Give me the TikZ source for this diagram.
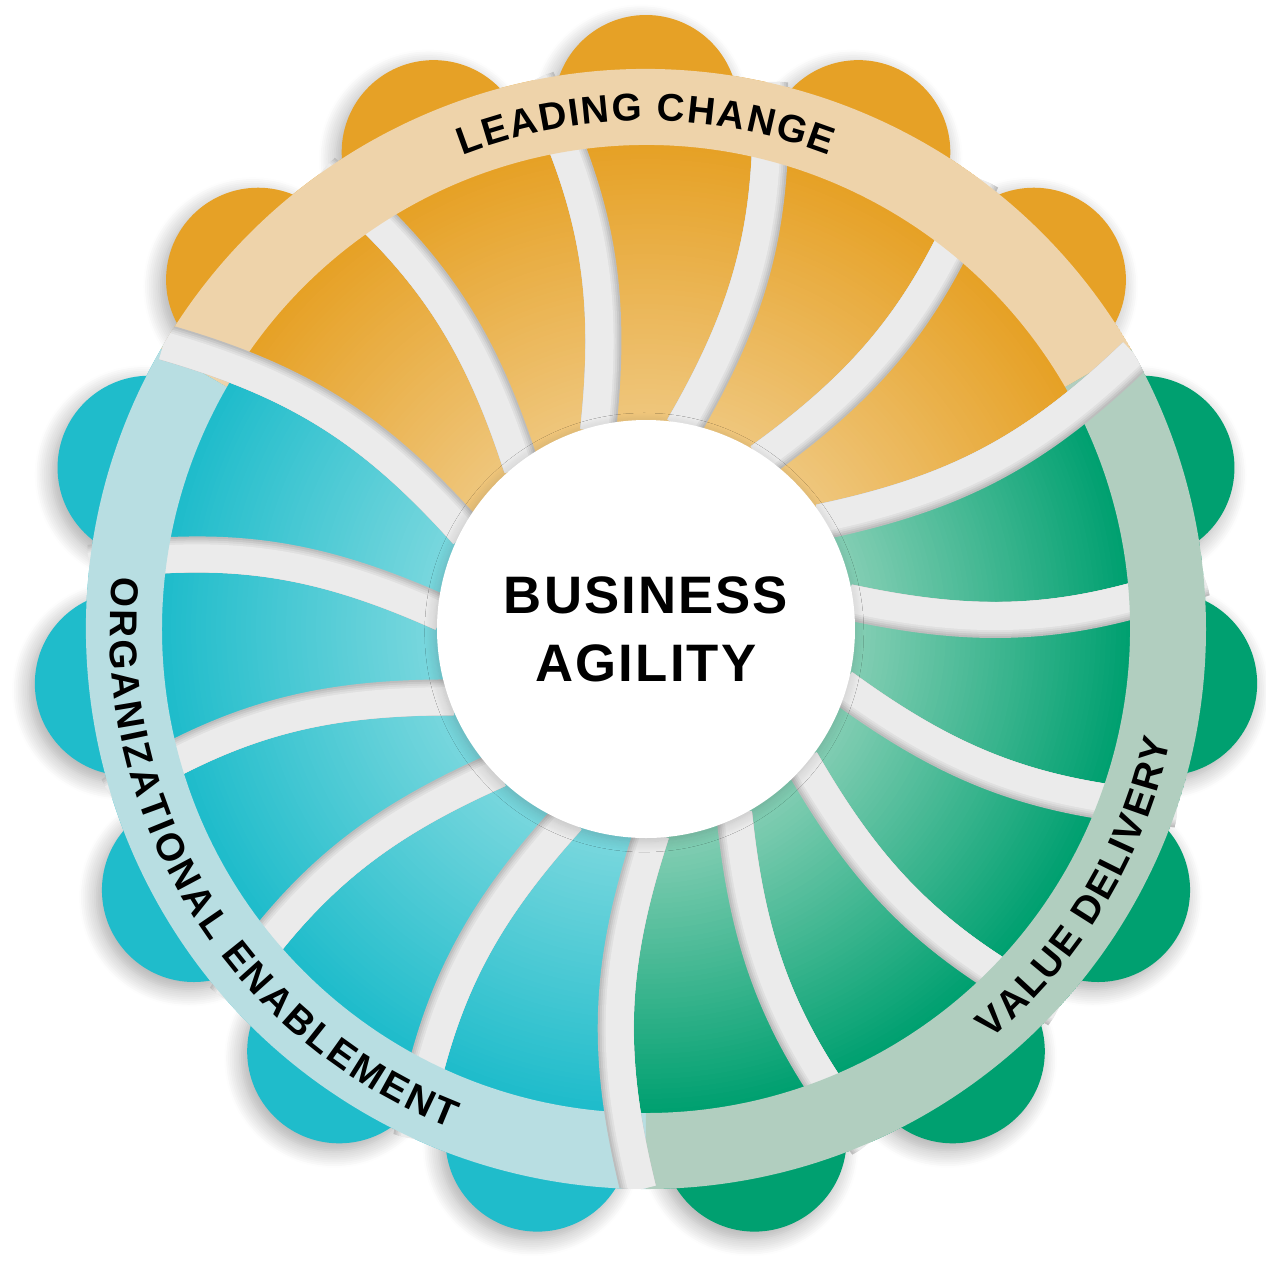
\documentclass[tikz,border=0pt]{standalone}
\usepackage{fontspec}
\setmainfont{Liberation Sans}
\usetikzlibrary{decorations.text,shadows.blur}

\definecolor{orangeout}{HTML}{E6A126}
\definecolor{orangein}{HTML}{EFC77E}
\definecolor{orangering}{HTML}{EED3AA}
\definecolor{cyanout}{HTML}{1FBCCB}
\definecolor{cyanin}{HTML}{7CD8DE}
\definecolor{cyanring}{HTML}{B8DEE2}
\definecolor{greenout}{HTML}{00A070}
\definecolor{greenin}{HTML}{86CFB5}
\definecolor{greenring}{HTML}{B1CEBF}

\newcommand{\ringfont}{\fontsize{11pt}{13pt}\selectfont\bfseries}

% one curved gap, soft shade on its clockwise side
\newcommand{\gapstrip}[1]{%
    \foreach \o/\g in {0/26, 1/21, 2/16, 3/12, 4/8} {
        \draw[black!\g, line width=36*0.1mm-\o*0.2mm]
            (#1+1.5+\o*0.28:205) to[bend right=16] (#1-0.8+\o*0.1:560);
    }%
}

\tikzset{
    petal/.style={blur shadow={shadow xshift=-1.5pt, shadow yshift=-2pt, shadow blur radius=5pt, shadow blur steps=10, shadow opacity=35}},
    ringtext/.style={decorate, decoration={text along path, text={|\ringfont|#1}, text align=fit to path}},
    hub/.style={circle, fill=white, minimum size=4.18cm, align=center,
        font=\fontsize{15pt}{19.4pt}\selectfont\bfseries\addfontfeatures{LetterSpace=4},
        blur shadow={shadow xshift=-0.5pt, shadow yshift=-1pt, shadow blur radius=3pt, shadow blur steps=12, shadow opacity=18}}
}

\begin{document}
\begin{tikzpicture}[x=0.1mm, y=0.1mm]
    \useasboundingbox (-646,-633) rectangle (620,629);

    % Petals
    \foreach \s/\cout in {30/orangeout, 150/cyanout, 270/greenout} {
        \foreach \k in {0,...,4} {
            \fill[\cout, petal] (\s+12+24*\k:522) circle (92);
        }
    }

    % Fans of each sector, lighter towards the hub
    \foreach \s/\cout/\cin in {30/orangeout/orangein, 150/cyanout/cyanin, 270/greenout/greenin} {
        \begin{scope}
            \clip (0,0) -- (\s+1.5:205) to[bend right=16] (\s-0.8:560)
                arc[start angle=\s-0.8, end angle=\s+119.2, radius=560]
                to[bend left=16] (\s+121.5:205) -- cycle;
            \foreach \r in {560,555,...,205} {
                \pgfmathsetmacro\p{max(0,min(100,(\r-209)/2.75))}
                \fill[\cout!\p!\cin] (0,0) circle (\r);
            }
        \end{scope}
    }

    % Gaps inside a sector
    \foreach \s in {30,150,270} {
        \foreach \k in {1,...,4} {
            \gapstrip{\s+24*\k}
        }
    }

    % Ring
    \foreach \s/\cring in {30/orangering, 150/cyanring, 270/greenring} {
        \fill[\cring] (\s:560) arc[start angle=\s, end angle=\s+120, radius=560]
            -- (\s+120:484) arc[start angle=\s+120, end angle=\s, radius=484] -- cycle;
    }

    % Gaps between sectors
    \begin{scope}
        \clip (0,0) circle (560);
        \foreach \b in {30,150,270} {
            \gapstrip{\b}
        }
    \end{scope}

    % Hub
    \node[hub] (agility) at (0,0) {BUSINESS\\AGILITY};

    % Ring labels
    \path[ringtext={LEADING CHANGE}] (111.2:508) arc[start angle=111.2, end angle=68.9, radius=508];
    \path[ringtext={VALUE DELIVERY}] (-50:536) arc[start angle=-50, end angle=-12, radius=536];
    \path[ringtext={ORGANIZATIONAL ENABLEMENT}] (174.4:536) arc[start angle=174.4, end angle=248.7, radius=536];
\end{tikzpicture}
\end{document}
